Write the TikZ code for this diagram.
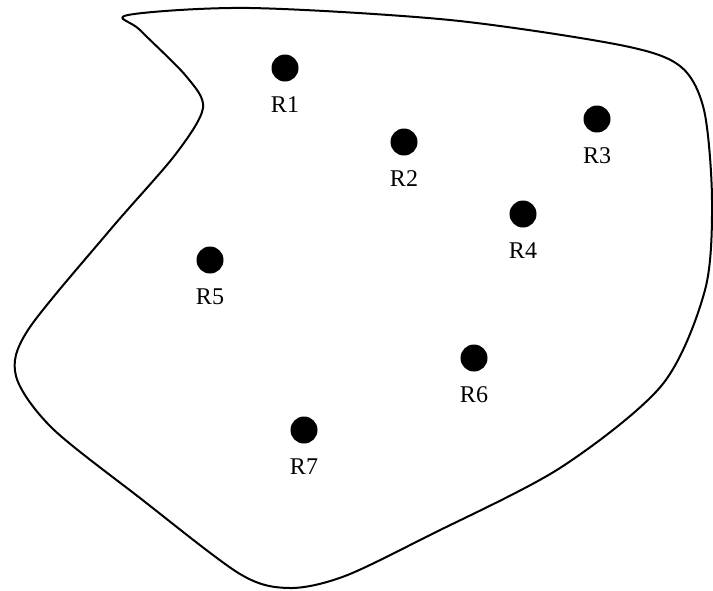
\documentclass[tikz,border=0pt]{standalone}
\usepackage{fontspec}
\setmainfont{Liberation Serif}
\begin{document}
\begin{tikzpicture}[
        x=1pt, y=-1pt,
        site/.style={
            circle,
            fill=black,
            inner sep=0pt,
            minimum size=27pt,
        },
        lbl/.style={
            inner sep=0pt,
            font=\fontsize{24}{26}\selectfont,
        },
        every label/.style={lbl},
        label distance=15pt,
    ]

    \useasboundingbox (0,0) rectangle (713,590);

    % region outline
    \draw [line width=2pt, line join=round] plot [smooth cycle, tension=0.5] coordinates {
        (128,15) (250,8) (450,20) (620,45) (680,66) (704,110)
        (712,200) (705,290) (662,385) (560,468) (430,535) (345,576)
        (290,588) (240,574) (140,498) (52,428) (16,376) (28,330)
        (110,230) (175,155) (203,108) (186,76) (140,30)
    };

    \node (R1) at (285,68)  [site, label=below:R1] {};
    \node (R2) at (404,142) [site, label=below:R2] {};
    \node (R3) at (597,119) [site, label=below:R3] {};
    \node (R4) at (523,214) [site, label=below:R4] {};
    \node (R5) at (210,260) [site, label=below:R5] {};
    \node (R6) at (474,358) [site, label=below:R6] {};
    \node (R7) at (304,430) [site, label=below:R7] {};

\end{tikzpicture}
\end{document}
